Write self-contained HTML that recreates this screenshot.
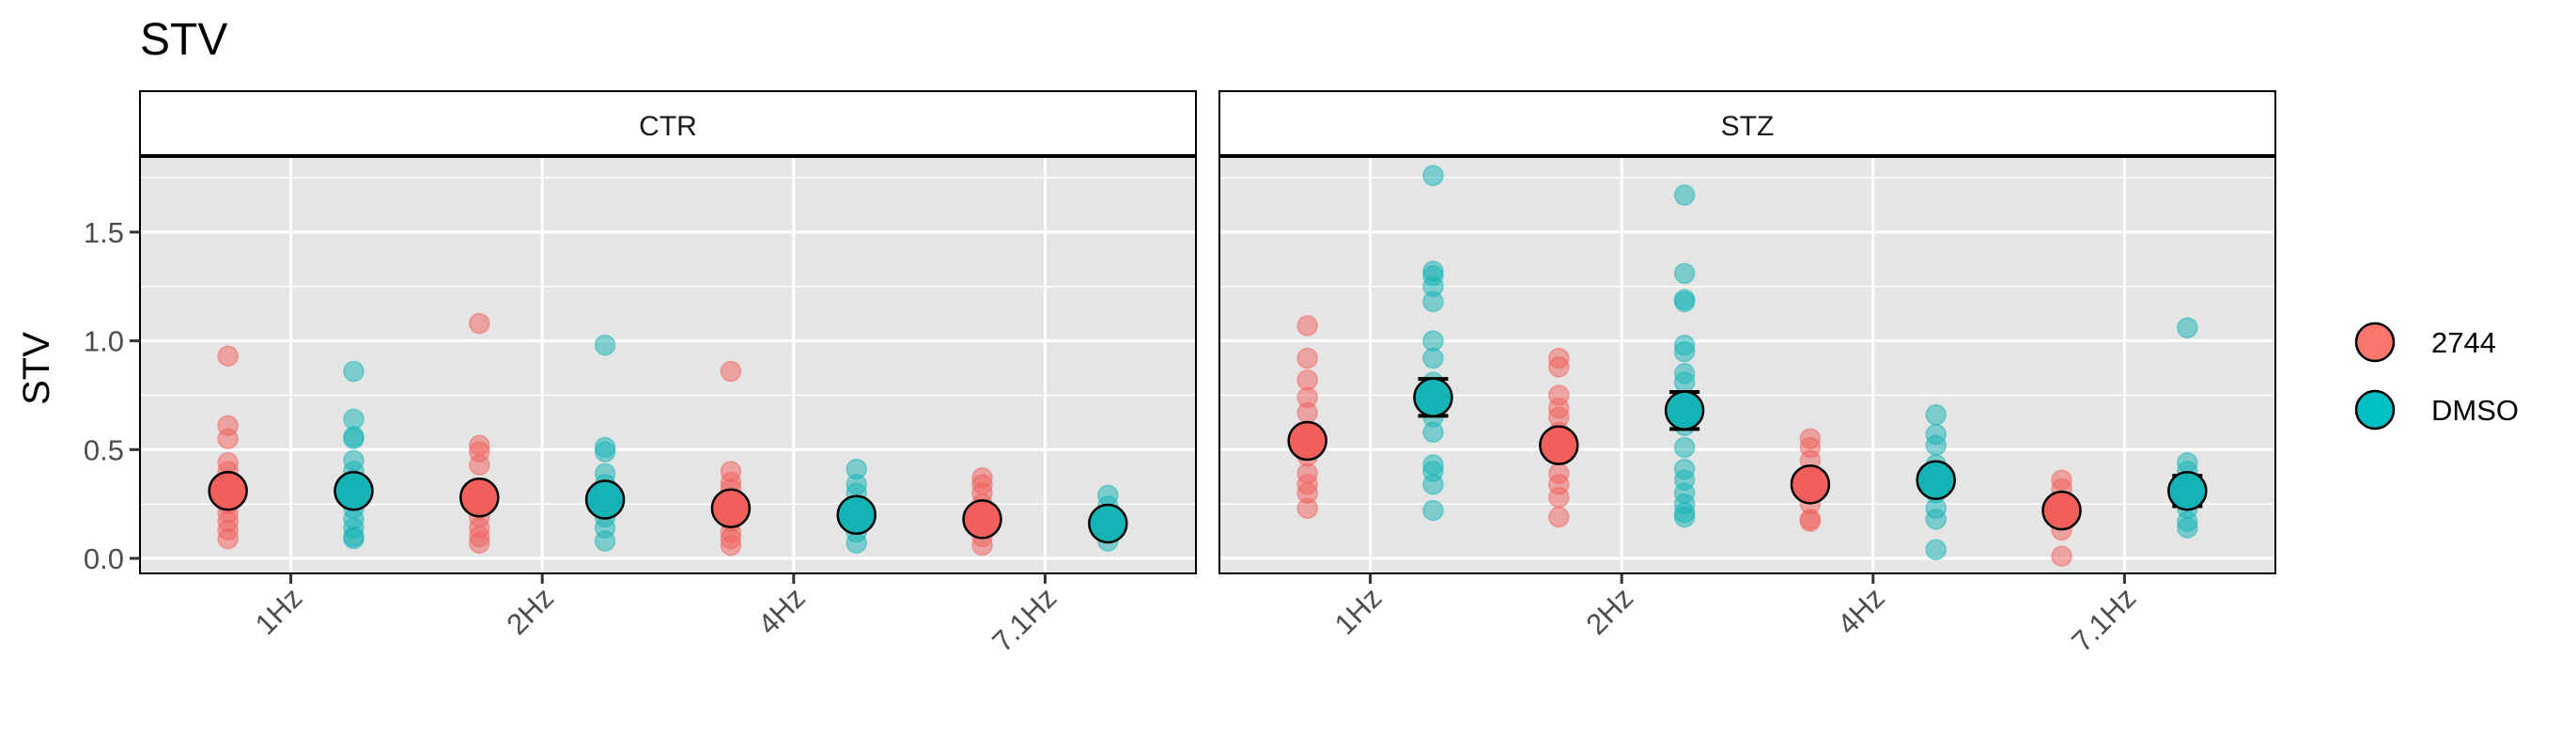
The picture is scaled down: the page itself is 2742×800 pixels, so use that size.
<!DOCTYPE html>
<html><head><meta charset="utf-8"><style>
html,body{margin:0;padding:0;background:#fff;}
svg{display:block;font-family:"Liberation Sans",Arial,sans-serif;}
</style></head><body>
<svg id="chart" width="2742" height="800" viewBox="0 0 2742 800" xmlns="http://www.w3.org/2000/svg">
<text x="149" y="58" font-size="48" fill="#000">STV</text>
<text transform="translate(52,392) rotate(-90)" text-anchor="middle" font-size="40" fill="#000">STV</text>
<g id="plots"></g>
<g>
<circle cx="2528" cy="364" r="20" fill="#F8766D" stroke="#000" stroke-width="2.5"/>
<text x="2588" y="375" font-size="31">2744</text>
<circle cx="2528" cy="436" r="20" fill="#00BFC4" stroke="#000" stroke-width="2.5"/>
<text x="2588" y="447" font-size="31">DMSO</text>
</g>
</svg>
<script>
const panels = ["CTR", "STZ"];
const categories = ["1Hz", "2Hz", "4Hz", "7.1Hz"];
const groups = ["2744", "DMSO"];
const yTicks = [0, 0.5, 1.0, 1.5];
const yTickLabels = ["0.0", "0.5", "1.0", "1.5"];
const ctr2744 = [
 [0.93,0.61,0.55,0.44,0.40,0.36,0.32,0.25,0.21,0.17,0.13,0.09],
 [1.08,0.52,0.49,0.43,0.28,0.23,0.19,0.14,0.10,0.07],
 [0.86,0.40,0.35,0.32,0.23,0.17,0.12,0.09,0.06],
 [0.37,0.34,0.30,0.25,0.19,0.14,0.10,0.06]];
const ctrDMSO = [
 [0.86,0.64,0.56,0.55,0.45,0.40,0.36,0.30,0.23,0.18,0.14,0.10,0.09],
 [0.98,0.51,0.49,0.39,0.34,0.25,0.19,0.14,0.08],
 [0.41,0.34,0.30,0.23,0.17,0.12,0.07],
 [0.29,0.24,0.19,0.12,0.08]];
const stz2744 = [
 [1.07,0.92,0.82,0.74,0.67,0.58,0.47,0.39,0.34,0.30,0.23],
 [0.92,0.88,0.75,0.69,0.65,0.58,0.52,0.39,0.34,0.28,0.19],
 [0.55,0.51,0.45,0.25,0.18,0.17],
 [0.36,0.32,0.19,0.13,0.01]];
const stzDMSO = [
 [1.76,1.32,1.30,1.25,1.18,1.00,0.92,0.81,0.65,0.58,0.43,0.40,0.34,0.22],
 [1.67,1.31,1.19,1.18,0.98,0.95,0.85,0.81,0.61,0.51,0.41,0.36,0.30,0.25,0.21,0.19],
 [0.66,0.57,0.52,0.43,0.36,0.30,0.23,0.18,0.04],
 [1.06,0.44,0.40,0.23,0.17,0.14]];
const ctrMean2744 = [0.31,0.28,0.23,0.18];
const ctrMeanDMSO = [0.31,0.27,0.20,0.16];
const stzMean2744 = [0.54,0.52,0.34,0.22];
const stzMeanDMSO = [0.74,0.68,0.36,0.31];
const ctrErr2744 = [0.03,0.03,0.03,0.02];
const ctrErrDMSO = [0.03,0.03,0.02,0.02];
const stzErr2744 = [0.04,0.04,0.04,0.03];
const stzErrDMSO = [0.085,0.085,0.04,0.07];

const NS="http://www.w3.org/2000/svg";
const colors=["#F8766D","#00BFC4"];
const ptColors=["#F15F5B","#14B4B6"];
const panelLeft=[149,1298], panelW=1124, plotTop=166, plotBot=610, stripTop=97;
const y0=594, yUnit=231.4;
const yScale=v=>y0-v*yUnit;
const unitW=panelW/4.2;
const xScale=(p,i)=>panelLeft[p]+(0.6+i)*unitW;
const dodge=0.25*unitW;
function mk(tag,attrs,parent){const e=document.createElementNS(NS,tag);for(const k in attrs)e.setAttribute(k,attrs[k]);parent.appendChild(e);return e;}
const root=document.getElementById('plots');
const raw=[[ctr2744,ctrDMSO],[stz2744,stzDMSO]];
const means=[[ctrMean2744,ctrMeanDMSO],[stzMean2744,stzMeanDMSO]];
const errs=[[ctrErr2744,ctrErrDMSO],[stzErr2744,stzErrDMSO]];
panels.forEach((pn,p)=>{
 const L=panelLeft[p];
 const g=mk('g',{},root);
 
 
 const bg=mk('rect',{x:L,y:plotTop,width:panelW,height:plotBot-plotTop,fill:'#E5E5E5'},g);
 
 
 for(let v=0.25;v<1.85;v+=0.5){mk('line',{x1:L,x2:L+panelW,y1:yScale(v),y2:yScale(v),stroke:'#fff','stroke-width':1.5},g);}
 yTicks.forEach(v=>{const gl=mk('line',{x1:L,x2:L+panelW,y1:yScale(v),y2:yScale(v),stroke:'#fff','stroke-width':3},g);
  
  });
 categories.forEach((c,i)=>{const x=xScale(p,i);
  mk('line',{x1:x,x2:x,y1:plotTop,y2:plotBot,stroke:'#fff','stroke-width':3},g);
  mk('line',{x1:x,x2:x,y1:plotBot,y2:plotBot+11,stroke:'#333','stroke-width':3},g);
  const t=mk('text',{transform:`translate(${x+14},${plotBot+28}) rotate(-45)`,'text-anchor':'end','font-size':31,fill:'#4D4D4D'},g);
  t.textContent=c;
  
  
 });
 groups.forEach((gr,k)=>{
  categories.forEach((c,i)=>{
   const x=xScale(p,i)+(k===0?-dodge:dodge);
   raw[p][k][i].forEach(v=>{const pt=mk('circle',{cx:x,cy:yScale(v),r:10.5,fill:ptColors[k],'fill-opacity':0.5,stroke:ptColors[k],'stroke-opacity':0.5,'stroke-width':1.5},g);
    
    });
  });
 });
 groups.forEach((gr,k)=>{
  categories.forEach((c,i)=>{
   const x=xScale(p,i)+(k===0?-dodge:dodge);
   const m=means[p][k][i], e=errs[p][k][i];
   const eb=mk('path',{d:`M${x-16},${yScale(m+e)}H${x+16}M${x},${yScale(m+e)}V${yScale(m-e)}M${x-16},${yScale(m-e)}H${x+16}`,stroke:'#000','stroke-width':4,fill:'none'},g);
   
   
   const mp=mk('circle',{cx:x,cy:yScale(m),r:20,fill:ptColors[k],stroke:'#000','stroke-width':2.5},g);
   
   
  });
 });
 mk('rect',{x:L,y:plotTop,width:panelW,height:plotBot-plotTop,fill:'none',stroke:'#000','stroke-width':2},g);
 const st=mk('rect',{x:L,y:stripTop,width:panelW,height:plotTop-stripTop,fill:'#fff',stroke:'#000','stroke-width':2},g);
 
 
 mk('line',{x1:L,x2:L+panelW,y1:plotTop,y2:plotTop,stroke:'#000','stroke-width':4},g);
 const sl=mk('text',{x:L+panelW/2,y:144,'text-anchor':'middle','font-size':30,fill:'#1A1A1A'},g);
 sl.textContent=pn;
 
 
 if(p===0){
  yTicks.forEach((v,j)=>{
   mk('line',{x1:L-11,x2:L,y1:yScale(v),y2:yScale(v),stroke:'#333','stroke-width':3},g);
   const t=mk('text',{x:L-17,y:yScale(v)+11,'text-anchor':'end','font-size':31,fill:'#4D4D4D'},g);
   t.textContent=yTickLabels[j];
   
   
  });
 }
});
</script>
</body></html>
